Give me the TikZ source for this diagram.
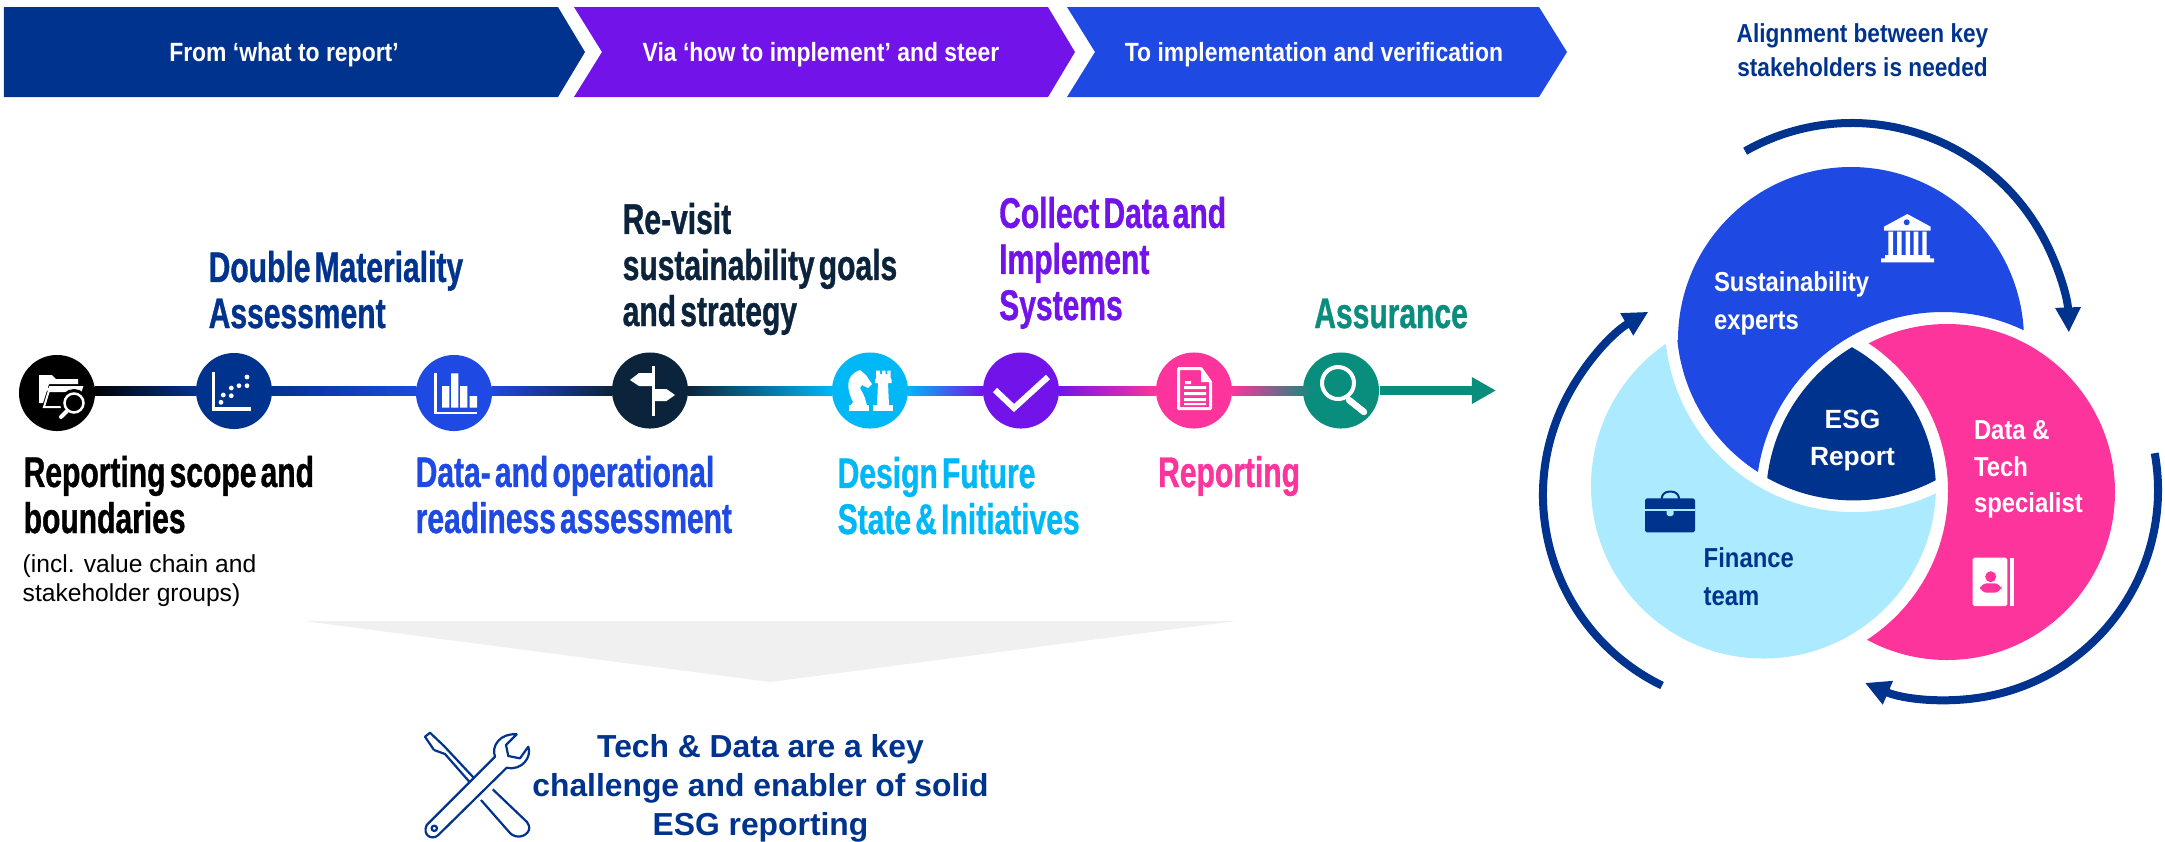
\documentclass[tikz,border=0pt]{standalone}
\usepackage{fontspec}
\setmainfont{Liberation Sans}
\newfontfamily\headfont[FakeStretch=0.70,FakeBold=0.8,WordSpace=0.5]{Liberation Sans}
\newfontfamily\narrowfont[FakeStretch=0.87]{Liberation Sans}
\usetikzlibrary{arrows.meta,calc}
\definecolor{kDark}{HTML}{00338D}
\definecolor{kBlue}{HTML}{1E49E2}
\definecolor{kNavy}{HTML}{0C233C}
\definecolor{kLight}{HTML}{ACEAFF}
\definecolor{kCyan}{HTML}{00B8F5}
\definecolor{kPurple}{HTML}{7213EA}
\definecolor{kPink}{HTML}{FD349C}
\definecolor{kTeal}{HTML}{098E7E}
\tikzset{
	stepdot/.style={circle,minimum size=0.76cm,inner sep=0pt},
	heading/.style={anchor=base west,align=left,inner sep=0pt,font=\headfont\bfseries\fontsize{12.2}{13.1}\selectfont},
	bannertext/.style={white,anchor=base,inner sep=0pt,font=\narrowfont\bfseries\fontsize{7.5}{9}\selectfont},
	venntext/.style={anchor=base west,align=left,inner sep=0pt,font=\narrowfont\bfseries\fontsize{7.8}{10.7}\selectfont},
	cyclearrow/.style={kDark,line width=0.08cm,-{Triangle[width=0.24cm,length=0.25cm]}},
	toolline/.style={kDark,line width=0.022cm,line join=round}
}
\begin{document}
\begin{tikzpicture}[x=0.01cm,y=-0.01cm]
	\useasboundingbox (0,0) rectangle (2165,841);

	\fill[kDark] (4,7)--(558,7)--(585,52)--(558,97)--(4,97)--cycle;
	\fill[kPurple] (574,7)--(1048,7)--(1075,52)--(1048,97)--(574,97)--(602,52)--cycle;
	\fill[kBlue] (1067,7)--(1539,7)--(1567,52)--(1539,97)--(1067,97)--(1095,52)--cycle;
	\node[bannertext] (fromtext) at (284,61.7) {From ‘what to report’};
	\node[bannertext] (viatext) at (821,61.7) {Via ‘how to implement’ and steer};
	\node[bannertext] (totext) at (1314,61.7) {To implementation and verification};
	\node[kDark,anchor=base,align=center,inner sep=0pt,font=\narrowfont\bfseries\fontsize{7.4}{9.8}\selectfont] (aligntext) at (1862.5,76.7) {Alignment between key\\stakeholders is needed};

	\node[stepdot,fill=black] (scope) at (57,393) {};
	\node[stepdot,fill=kDark] (double) at (234,391) {};
	\node[stepdot,fill=kBlue] (readiness) at (454,393) {};
	\node[stepdot,fill=kNavy] (goals) at (650,390.5) {};
	\node[stepdot,fill=kCyan] (design) at (870,390.5) {};
	\node[stepdot,fill=kPurple] (collect) at (1021,390.5) {};
	\node[stepdot,fill=kPink] (report) at (1194,390.5) {};
	\node[stepdot,fill=kTeal] (assure) at (1341,390.5) {};
	\coordinate (lineend) at (1496,390.5);

	\shade[left color=black,right color=kDark] ($(scope.east |- lineend)+(-1,-4.5)$) rectangle ($(double.west |- lineend)+(1,4.5)$);
	\shade[left color=kDark,right color=kBlue] ($(double.east |- lineend)+(-1,-4.5)$) rectangle ($(readiness.west |- lineend)+(1,4.5)$);
	\shade[left color=kBlue,right color=kNavy] ($(readiness.east |- lineend)+(-1,-4.5)$) rectangle ($(goals.west |- lineend)+(1,4.5)$);
	\shade[left color=kNavy,right color=kCyan] ($(goals.east |- lineend)+(-1,-4.5)$) rectangle ($(design.west |- lineend)+(1,4.5)$);
	\shade[left color=kCyan,right color=kPurple] ($(design.east |- lineend)+(-1,-4.5)$) rectangle ($(collect.west |- lineend)+(1,4.5)$);
	\shade[left color=kPurple,right color=kPink] ($(collect.east |- lineend)+(-1,-4.5)$) rectangle ($(report.west |- lineend)+(1,4.5)$);
	\shade[left color=kPink,right color=kTeal] ($(report.east |- lineend)+(-1,-4.5)$) rectangle ($(assure.west |- lineend)+(12,4.5)$);
	\draw[kTeal,line width=0.09cm,-{Triangle[width=0.25cm,length=0.24cm]}] (assure.east) -- (lineend);

	\node[heading,kDark] (doubletext) at (208,328) {Double Materiality\\Assessment};
	\node[heading,kNavy] (goalstext) at (622,326) {Re-visit\\sustainability goals\\and strategy};
	\node[heading,kPurple] (collecttext) at (998.5,320) {Collect Data and\\Implement\\Systems};
	\node[heading,kTeal] (assuretext) at (1313.6,328) {Assurance};
	\node[heading,black] (scopetext) at (23,533) {Reporting scope and\\boundaries};
	\node[heading,kBlue] (readinesstext) at (415,533) {Data- and operational\\readiness assessment};
	\node[heading,kCyan] (designtext) at (837,534) {Design Future\\State \& Initiatives};
	\node[heading,kPink] (reporttext) at (1157.5,487) {Reporting};
	\node[anchor=base west,align=left,inner sep=0pt,font=\fontsize{7}{8.25}\selectfont] (incltext) at (22,601) {(incl. value chain and\\stakeholder groups)};

	\fill[white] (39,375)--(52,375)--(56,379)--(78,379)--(78,384)--(49,384)--(43,403)--(39,403)--cycle;
	\draw[white,line width=0.02cm] (50,387)--(82,387)--(76,407)--(44,407)--cycle;
	\fill[white] (45,388)--(50,388)--(81,388)--(80,392)--(49,392)--cycle;
	\draw[black,fill=black,line width=0.02cm] (74,403) circle (13);
	\draw[white,line width=0.025cm] (74,403) circle (9.5);
	\draw[white,line width=0.04cm,line cap=round] (67,411)--(61,417);

	\draw[white,line width=0.035cm] (213.7,372)--(213.7,409)--(251,409);
	\fill[white] (247,377) circle (2.4) (239,385.7) circle (2.4) (247,385.7) circle (2.4) (231.3,388) circle (2.4)
		(223.3,395) circle (2.4) (231.3,395.7) circle (2.4) (221,402.3) circle (2.4);

	\draw[white,line width=0.025cm] (435.5,373)--(435.5,413)--(477.3,413);
	\fill[white] (442,386) rectangle (449.3,407.7) (451,373.3) rectangle (458.3,407.7) (460,386) rectangle (467.3,407.7) (469.7,396) rectangle (477,407.7);

	\fill[white] (652,366) rectangle (655,416);
	\fill[white] (652,373)--(639,373)--(630,380)--(639,386)--(652,386)--cycle;
	\fill[white] (655,389)--(666.5,389)--(675,395)--(666.5,401)--(655,401)--cycle;

	\fill[white] (849,405) rectangle (869,411);
	\fill[white] (851,405)--(853,402) .. controls (848,392) and (843,376) .. (860,370)--(866,375)--(872,384)--(868,388)--(862,385)--(860,388) .. controls (862,392) and (865,396) .. (866,402)--(867,405)--cycle;
	\fill[white] (873.3,405) rectangle (892.7,411);
	\fill[white] (877,405)--(889,405)--(888,383)--(891.7,383)--(891.7,380)--(890.7,378)--(890.7,370.7)--(887.3,370.7)--(887.3,374)--(885.7,374)--(885.7,370.7)--(882,370.7)--(882,374)--(880,374)--(880,370.7)--(876,370.7)--(876,378)--(875,380)--(875,383)--(878,383)--cycle;

	\draw[white,line width=0.06cm] (995,390)--(1014,408)--(1048,377);

	\draw[white,line width=0.03cm,line join=round] (1178.5,368.5)--(1201,368.5)--(1210.5,382)--(1210.5,408.5)--(1178.5,408.5)--cycle;
	\fill[white] (1201,369)--(1201,382)--(1210,382)--cycle;
	\fill[white] (1185,381) rectangle (1191,384) (1184,386) rectangle (1206,389) (1184,392) rectangle (1206,395) (1184,398) rectangle (1206,401) (1184,403) rectangle (1206,405);

	\draw[white,line width=0.04cm] (1338,383) circle (16);
	\draw[white,line width=0.065cm,line cap=round] (1349,400)--(1364,412);

	\begin{scope}[even odd rule]
		\clip (1500,100) rectangle (2165,720) (1943,499) circle (187);
		\fill[kBlue] (1678,340) arc(180:360:173)--(2029.7,340) arc(5.5:174.5:177)--cycle;
	\end{scope}
	\begin{scope}[even odd rule]
		\clip (1500,100) rectangle (2165,720) (1771,491) circle (177);
		\fill[kPink] (1947,492) circle (168);
	\end{scope}
	\begin{scope}[even odd rule]
		\clip (1500,100) rectangle (2165,720) (1853.5,323.4) circle (188.7);
		\fill[kLight] (1763.5,486) circle (172.5);
	\end{scope}
	\begin{scope}
		\clip (1943,499) circle (177);
		\clip (1771,491) circle (165);
		\fill[kDark] (1853.5,323.4) circle (177);
	\end{scope}

	\node[venntext,white] (susttext) at (1713.3,329.3) {Sustainability\\experts};
	\node[venntext,white] (datatext) at (1973.3,512.7) {Data \&\\[-0.3pt]Tech\\[-0.3pt]specialist};
	\node[venntext,kDark] (fintext) at (1703,605) {Finance\\team};
	\node[white,anchor=base,align=center,inner sep=0pt,font=\bfseries\fontsize{7.5}{10.3}\selectfont] (esgtext) at (1852.5,465) {ESG\\Report};

	\draw[cyclearrow] (1852,340) ++(-119.5:217) arc(-119.5:-2:217);
	\draw[cyclearrow] (1755,495) ++(116:212) arc(116:239.8:212);
	\draw[cyclearrow] (1948,490) ++(-10.1:210) arc(-10.1:113.3:210);

	\fill[white] (1907.3,214)--(1930.7,226.7)--(1930.7,230.7)--(1884,230.7)--(1884,226.7)--cycle;
	\fill[kBlue] (1906.7,222.3) circle (3);
	\fill[white] (1888.3,231.7) rectangle (1893,255) (1897,231.7) rectangle (1901.7,255) (1905.7,231.7) rectangle (1910,255) (1913.7,231.7) rectangle (1918.3,255) (1922.3,231.7) rectangle (1926.7,255);
	\fill[white] (1885,255) rectangle (1930,258.3) (1881,258.3) rectangle (1934,262.3);

	\draw[kDark,line width=0.02cm,rounded corners=2pt] (1661.7,499)--(1661.7,491.7)--(1679,491.7)--(1679,499);
	\fill[kDark,rounded corners=0.5pt] (1645,498.3) rectangle (1695,532.3);
	\draw[kLight,line width=0.012cm] (1645,510)--(1695,510);
	\fill[kLight,rounded corners=0.5pt] (1666.5,509) rectangle (1673.5,516);

	\fill[white,rounded corners=0.5pt] (1972.7,557.7) rectangle (2007.3,606);
	\fill[white] (2010,557.7) rectangle (2014,606);
	\fill[kPink] (1990.7,576.7) circle (5.5);
	\fill[kPink,rounded corners=2pt] (1980,592.7)--(1980,583.3)--(2001.3,583.3)--(2001.3,592.7)--cycle;

	\fill[black!6] (304,621)--(1236,621)--(770,682)--cycle;

	\node[kDark,align=center,inner sep=0pt,anchor=base,font=\bfseries\fontsize{9.05}{11}\selectfont] (techtext) at (760.5,835) {Tech \& Data are a key\\challenge and enabler of solid\\ESG reporting};

	\draw[toolline] (434,750)--(425,736.7)--(430,732.7)--(444,746)--(473.3,777.3);
	\draw[toolline] (434,750)--(445,754)--(469.3,781.7);
	\draw[toolline] (481,800)--(510,833) .. controls (516,839) and (526,837) .. (529,830) .. controls (530,826) and (528,824) .. (527,822)--(492.7,789.3);
	\draw[toolline] (426.7,825)--(495,756.7) .. controls (491,746) and (500,733) .. (516.7,734.3)--(506,745)--(508.3,756)--(520,758.3)--(528.3,746.7) .. controls (532,757) and (522,771) .. (506.7,767.7)--(438.3,835) .. controls (432,841) and (422,835) .. (426.7,825)--cycle;
	\draw[toolline] (434.3,828.3) circle (2.7);
\end{tikzpicture}
\end{document}
